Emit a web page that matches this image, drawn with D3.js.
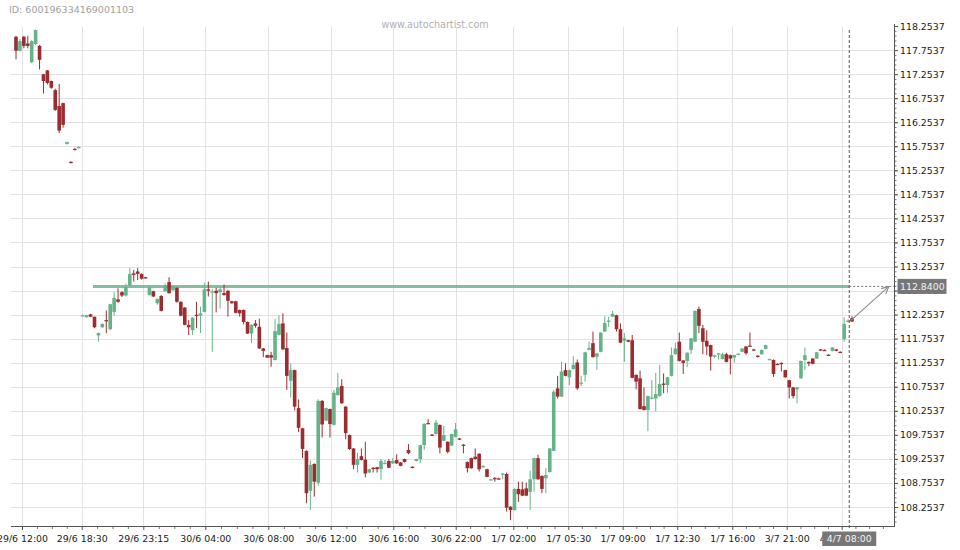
<!DOCTYPE html>
<html><head><meta charset="utf-8">
<script src="https://cdn.jsdelivr.net/npm/d3@7"></script>
<style>
body{margin:0;background:#fff}
svg{display:block}
text{font-family:"DejaVu Sans",sans-serif}
</style>
</head><body>
<svg id="chart" width="960" height="550"></svg>
<script>
// ---- DATA (15-minute candles) ----
const openP = [118.03,117.74,118.03,117.89,117.50,117.88,117.84,117.25,117.33,117.11,116.92,116.59,116.65,115.80,115.43,115.70,115.72,112.24,112.20,112.26,
112.21,111.82,111.99,112.14,111.95,112.31,112.57,112.72,112.65,112.85,113.11,113.15,113.10,113.03,112.66,112.74,112.49,112.64,112.74,112.93,
112.76,112.81,112.52,112.40,112.04,111.93,112.25,112.23,112.31,112.78,112.72,112.75,112.72,112.70,112.75,112.53,112.53,112.35,112.35,112.10,
111.86,112.07,112.00,111.55,111.41,111.41,111.31,111.83,112.07,111.56,110.88,111.10,110.31,109.89,109.42,108.59,109.15,108.76,110.46,110.05,
110.29,109.96,110.58,110.77,110.34,109.75,109.47,109.13,109.31,109.24,108.97,109.07,109.08,109.04,109.16,109.21,109.16,109.23,109.18,109.25,
109.44,109.09,109.21,109.25,109.54,110.00,109.76,109.77,109.96,109.63,109.61,109.53,109.71,109.68,109.55,109.19,109.27,109.30,109.36,109.08,
109.04,108.82,108.86,108.85,108.93,108.94,108.26,108.19,108.63,108.62,108.64,108.57,108.83,109.27,108.90,108.85,108.98,109.42,110.72,110.55,
111.10,110.95,111.12,111.26,110.82,111.00,111.52,111.66,111.38,111.48,111.90,112.12,112.21,112.24,111.95,111.71,111.72,111.72,111.00,110.93,
110.35,110.27,110.51,110.51,110.56,110.82,110.79,110.98,111.43,111.69,111.30,111.29,111.52,111.69,112.37,111.97,111.71,111.62,111.38,111.43,
111.33,111.43,111.41,111.36,111.43,111.48,111.59,111.61,111.53,111.40,111.43,111.54,111.32,111.31,111.23,111.25,111.10,110.89,110.74,110.70,
110.93,111.31,111.27,111.34,111.34,111.53,111.52,111.42,111.50,111.53,111.48,111.74,112.10,112.18];
const highP = [118.05,117.98,118.05,118.05,117.96,118.18,117.86,117.26,117.34,117.12,116.95,117.05,116.66,115.85,115.44,115.71,115.75,112.25,112.24,112.27,
112.21,111.88,112.07,112.34,112.48,112.72,112.80,112.74,112.90,113.22,113.18,113.22,113.11,113.04,112.83,112.75,112.59,112.66,112.90,113.03,
112.86,112.82,112.53,112.41,112.14,112.20,112.52,112.42,112.92,112.94,112.78,112.81,112.83,112.88,112.76,112.54,112.54,112.36,112.36,112.11,
112.05,112.14,112.17,111.56,111.42,111.48,112.16,112.24,112.28,111.88,111.24,111.11,110.49,109.90,109.43,109.22,109.16,110.49,110.48,110.32,
110.30,110.69,111.04,110.91,110.35,109.76,109.48,109.38,109.47,109.61,109.05,109.08,109.09,109.25,109.23,109.25,109.27,109.35,109.19,109.26,
109.56,109.10,109.26,109.55,110.00,110.08,109.77,110.06,109.97,109.94,109.62,109.78,110.00,109.69,109.56,109.20,109.28,109.47,109.37,109.12,
109.05,108.84,108.87,108.86,108.96,108.97,108.27,108.64,108.78,108.78,108.76,109.01,109.28,109.34,108.91,109.06,109.48,110.69,110.98,111.27,
111.24,111.11,111.39,111.32,110.98,111.48,111.69,111.90,111.46,111.89,112.22,112.21,112.33,112.25,112.07,111.87,111.73,111.83,111.01,111.09,
110.74,110.57,110.89,111.04,111.21,111.03,110.96,111.57,111.67,111.88,111.31,111.47,111.77,112.34,112.42,112.04,111.93,111.63,111.42,111.46,
111.46,111.46,111.42,111.42,111.45,111.56,111.60,111.88,111.54,111.41,111.53,111.63,111.34,111.32,111.24,111.26,111.11,110.90,110.75,110.75,
111.30,111.57,111.28,111.35,111.48,111.54,111.53,111.43,111.58,111.54,111.49,112.20,112.16,112.22];
const lowP = [117.56,117.72,117.79,117.79,117.48,117.86,117.35,116.85,117.04,116.95,116.49,116.03,116.14,115.79,115.40,115.67,115.71,112.23,112.19,112.20,
111.97,111.69,111.98,111.87,111.93,112.23,112.50,112.62,112.63,112.84,112.94,112.97,112.98,113.01,112.65,112.62,112.46,112.32,112.73,112.69,
112.75,112.50,112.22,112.03,111.83,111.83,111.97,111.87,112.30,112.63,111.48,112.30,112.38,112.65,112.21,112.48,112.28,112.21,112.05,111.85,
111.66,111.98,111.54,111.37,111.35,111.17,111.30,111.82,111.52,110.69,110.53,110.26,109.81,109.27,108.33,108.19,108.47,108.70,109.70,110.04,
109.70,109.95,110.57,110.40,109.66,109.44,109.04,108.97,109.22,108.87,108.96,108.97,108.97,108.82,109.15,109.06,109.15,109.15,109.10,109.18,
109.35,109.06,109.20,109.17,109.44,109.98,109.74,109.76,109.37,109.62,109.37,109.52,109.70,109.65,109.37,108.97,109.05,109.24,108.99,109.07,
108.87,108.81,108.78,108.83,108.83,108.16,107.98,108.18,108.36,108.48,108.48,108.19,108.57,108.82,108.54,108.54,108.97,109.41,110.51,110.54,
110.97,110.79,111.11,110.69,110.77,110.86,111.51,111.36,111.10,111.47,111.89,112.00,112.20,111.90,111.66,111.27,111.68,110.93,110.70,110.28,
110.26,109.83,110.49,110.24,110.55,110.62,110.63,110.97,111.42,111.28,111.02,111.16,111.43,111.68,111.87,111.43,111.41,111.09,111.35,111.32,
111.32,111.26,111.01,111.25,111.42,111.47,111.42,111.58,111.51,111.36,111.42,111.53,111.31,110.96,111.21,111.07,110.94,110.51,110.51,110.41,
110.92,111.10,111.18,111.22,111.33,111.51,111.50,111.40,111.49,111.49,111.46,111.69,112.09,112.10];
const closeP = [117.74,117.94,117.84,117.84,117.94,118.17,117.55,117.11,117.07,116.97,116.51,116.08,116.20,115.84,115.41,115.68,115.74,112.24,112.24,112.21,
111.99,111.87,112.06,112.13,112.47,112.60,112.52,112.65,112.82,113.10,113.08,113.10,113.00,113.02,112.82,112.63,112.58,112.33,112.85,112.70,
112.85,112.52,112.23,112.04,111.99,112.19,112.24,112.28,112.78,112.75,112.74,112.70,112.78,112.66,112.54,112.49,112.29,112.28,112.10,111.86,
112.04,112.02,111.55,111.50,111.36,111.36,111.91,112.06,111.53,110.98,111.10,110.34,109.90,109.46,108.54,109.13,108.78,110.46,109.97,110.31,
109.98,110.63,110.74,110.41,109.79,109.46,109.13,109.25,109.23,108.95,109.04,109.06,109.04,109.21,109.17,109.07,109.21,109.16,109.11,109.19,
109.37,109.07,109.25,109.54,109.98,109.99,109.75,110.01,109.49,109.75,109.40,109.77,109.87,109.66,109.54,109.06,109.06,109.25,109.04,109.11,
108.88,108.83,108.83,108.84,108.95,108.24,108.19,108.63,108.52,108.49,108.49,108.83,109.27,108.83,108.63,108.92,109.47,110.65,110.55,111.07,
110.98,111.10,111.21,110.72,110.84,111.47,111.56,111.37,111.45,111.88,112.08,112.13,112.27,111.95,111.67,111.76,111.69,110.94,110.86,110.29,
110.27,110.56,110.53,110.60,110.81,110.81,110.95,111.41,111.55,111.29,111.25,111.46,111.76,112.33,112.02,111.69,111.59,111.38,111.41,111.45,
111.43,111.27,111.34,111.41,111.44,111.55,111.45,111.59,111.52,111.39,111.52,111.62,111.33,111.02,111.22,111.23,110.95,110.74,110.56,110.74,
111.29,111.41,111.24,111.23,111.47,111.52,111.51,111.41,111.57,111.50,111.47,112.06,112.13,112.11];

const xTickSlots  = [1.53, 16.74, 32.43, 48.23, 64.28, 80.18, 96.13, 112.03, 126.7, 140.71, 154.57, 168.48, 182.5, 196.36, 210.37];
const xTickLabels = ["29/6 12:00","29/6 18:30","29/6 23:15","30/6 04:00","30/6 08:00","30/6 12:00","30/6 16:00","30/6 22:00",
                     "1/7 02:00","1/7 05:30","1/7 09:00","1/7 12:30","1/7 16:00","3/7 21:00","4/7 01:30"];
const yTickValues = [108.2537,108.7537,109.2537,109.7537,110.2537,110.7537,111.2537,111.7537,112.2537,112.7537,
                     113.2537,113.7537,114.2537,114.7537,115.2537,115.7537,116.2537,116.7537,117.2537,117.7537,118.2537];

const chartId = "ID: 600196334169001103";
const watermark = "www.autochartist.com";
const resistanceLevel = 112.84;
const resistanceLabel = "112.8400";
const patternStartSlot = 19.6;
const currentSlot = 212.3;
const currentLabel = "4/7 08:00";
const forecastStart = {slot: 212.8, price: 112.14};
const forecastEnd   = {slot: 222.4, price: 112.84};

// ---- LAYOUT ----
const plotLeft = 11, plotRight = 894, plotTop = 26, plotBottom = 526;
const GREEN = "#66b38a", RED = "#9b2c30";
const FS = 9.4;

const svg = d3.select("#chart");
const x = d3.scaleLinear().domain([0, openP.length - 1]).range([16, 852]);
const y = d3.scaleLinear().domain([108.2537, 118.2537]).range([507, 26]);

// header texts
svg.append("text").attr("x", 9).attr("y", 13.3).attr("font-size", 9.5).attr("fill", "#a0a0a0").text(chartId);
svg.append("text").attr("x", 435).attr("y", 27.5).attr("text-anchor", "middle").attr("font-size", 9.6)
   .attr("fill", "#b0b0b0").text(watermark);

// gridlines
const grid = svg.append("g").attr("stroke", "#e2e2e2").attr("stroke-width", 1);
grid.selectAll("line.h").data(yTickValues.filter(v => y(v) > plotTop + 2)).join("line")
  .attr("x1", plotLeft).attr("x2", plotRight)
  .attr("y1", d => Math.round(y(d)) + 0.5).attr("y2", d => Math.round(y(d)) + 0.5);
grid.selectAll("line.v").data(xTickSlots).join("line")
  .attr("x1", d => Math.round(x(d)) + 0.5).attr("x2", d => Math.round(x(d)) + 0.5)
  .attr("y1", plotTop + 1).attr("y2", plotBottom);

// resistance line
svg.append("line").attr("x1", x(patternStartSlot)).attr("x2", x(currentSlot))
  .attr("y1", y(resistanceLevel)).attr("y2", y(resistanceLevel))
  .attr("stroke", "#6db592").attr("stroke-width", 3).attr("opacity", 0.85);

// candles
const candles = d3.range(openP.length).map(i => ({i, o: openP[i], h: highP[i], l: lowP[i], c: closeP[i]}));
const cg = svg.append("g");
cg.selectAll("line").data(candles).join("line")
  .attr("x1", d => x(d.i)).attr("x2", d => x(d.i))
  .attr("y1", d => y(d.h)).attr("y2", d => y(d.l))
  .attr("stroke", d => d.c >= d.o ? GREEN : RED).attr("stroke-width", 1);
cg.selectAll("rect").data(candles).join("rect")
  .attr("x", d => x(d.i) - 1.8).attr("width", 3.6)
  .attr("y", d => Math.min(y(d.o), y(d.c)))
  .attr("height", d => Math.max(1.3, Math.abs(y(d.o) - y(d.c))))
  .attr("fill", d => d.c >= d.o ? GREEN : RED);

// current time dashed vertical
svg.append("line").attr("x1", x(currentSlot)).attr("x2", x(currentSlot))
  .attr("y1", 30).attr("y2", plotBottom + 4)
  .attr("stroke", "#555").attr("stroke-width", 1).attr("stroke-dasharray", "3,2");

// dashed horizontal to label
svg.append("line").attr("x1", x(currentSlot)).attr("x2", plotRight + 3)
  .attr("y1", y(resistanceLevel)).attr("y2", y(resistanceLevel))
  .attr("stroke", "#777").attr("stroke-width", 1).attr("stroke-dasharray", "2,2");

// forecast arrow
const ax1 = x(forecastStart.slot), ay1 = y(forecastStart.price);
const ax2 = x(forecastEnd.slot), ay2 = y(forecastEnd.price);
svg.append("line").attr("x1", ax1).attr("y1", ay1).attr("x2", ax2).attr("y2", ay2)
  .attr("stroke", "#8a8a8a").attr("stroke-width", 1.1);
const ang = Math.atan2(ay2 - ay1, ax2 - ax1);
[-0.45, 0.45].forEach(da => {
  svg.append("line").attr("x1", ax2).attr("y1", ay2)
    .attr("x2", ax2 - 8 * Math.cos(ang + da)).attr("y2", ay2 - 8 * Math.sin(ang + da))
    .attr("stroke", "#8a8a8a").attr("stroke-width", 1.1);
});

// x axis
const xMinor = [];
for (let k = 0; k < xTickSlots.length - 1; k++) {
  const a = xTickSlots[k], b = xTickSlots[k + 1];
  for (let q = 1; q < 4; q++) xMinor.push(a + (b - a) * q / 4);
}
const lastStep = (xTickSlots[xTickSlots.length - 1] - xTickSlots[xTickSlots.length - 2]) / 4;
for (let s = xTickSlots[xTickSlots.length - 1] + lastStep; x(s) < plotRight - 2; s += lastStep) xMinor.push(s);

const xAxisG = svg.append("g").attr("transform", `translate(0,${plotBottom})`)
  .call(d3.axisBottom(x).tickValues(xTickSlots).tickFormat((d, i) => xTickLabels[i]).tickSize(4).tickPadding(5));
xAxisG.select(".domain").remove();
xAxisG.selectAll(".tick line").attr("stroke", "#555");
xAxisG.selectAll("text").attr("font-size", FS).attr("fill", "#1a1a1a").attr("font-family", "DejaVu Sans");
const xMinorG = svg.append("g").attr("transform", `translate(0,${plotBottom})`)
  .call(d3.axisBottom(x).tickValues(xMinor).tickSize(3).tickFormat(""));
xMinorG.select(".domain").remove();
xMinorG.selectAll(".tick line").attr("stroke", "#777");
svg.append("line").attr("x1", plotLeft).attr("x2", plotRight).attr("y1", plotBottom + 0.5).attr("y2", plotBottom + 0.5)
  .attr("stroke", "#555").attr("stroke-width", 1);

// y axis
const yMinor = d3.range(107.9537, 118.40, 0.1).filter(v => y(v) >= 24 && y(v) <= plotBottom);
const yMinorG = svg.append("g").attr("transform", `translate(${plotRight},0)`)
  .call(d3.axisRight(y).tickValues(yMinor).tickSize(2.5).tickFormat(""));
yMinorG.select(".domain").remove();
yMinorG.selectAll(".tick line").attr("stroke", "#777");
const yAxisG = svg.append("g").attr("transform", `translate(${plotRight},0)`)
  .call(d3.axisRight(y).tickValues(yTickValues).tickSize(4).tickPadding(2).tickFormat(d3.format(".4f")));
yAxisG.select(".domain").remove();
yAxisG.selectAll(".tick line").attr("stroke", "#555");
yAxisG.selectAll("text").attr("font-size", FS).attr("fill", "#1a1a1a").attr("font-family", "DejaVu Sans");
svg.append("line").attr("x1", plotRight + 0.5).attr("x2", plotRight + 0.5).attr("y1", 24).attr("y2", plotBottom + 1)
  .attr("stroke", "#555").attr("stroke-width", 1);

// price label box
const py = y(resistanceLevel);
svg.append("rect").attr("x", plotRight + 3.5).attr("y", py - 7.5).attr("width", 49).attr("height", 15).attr("fill", "#777");
svg.append("text").attr("x", plotRight + 6).attr("y", py + 3.5).attr("font-size", FS).attr("fill", "#f4f4f4").text(resistanceLabel);

// time label box
const tx = x(currentSlot);
svg.append("rect").attr("x", tx - 27).attr("y", 531.5).attr("width", 54).attr("height", 14.5).attr("fill", "#777");
svg.append("text").attr("x", tx).attr("y", 541.8).attr("text-anchor", "middle").attr("font-size", FS)
  .attr("fill", "#f4f4f4").text(currentLabel);
</script>
</body></html>
